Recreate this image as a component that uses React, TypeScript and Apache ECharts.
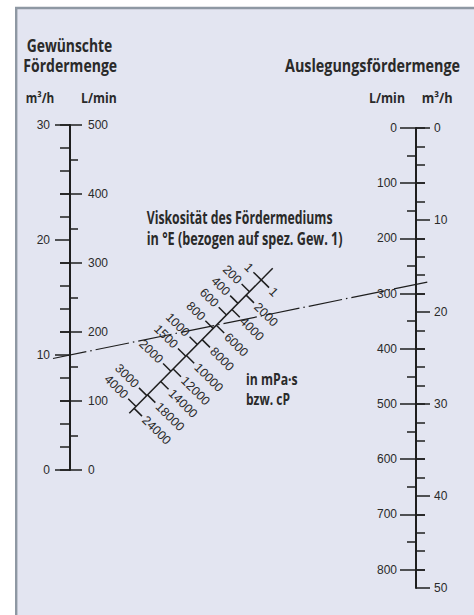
import React, { useEffect, useRef } from 'react';
import * as echarts from 'echarts';

// ---- Left scale: "Gewünschte Fördermenge" ----
const leftLpmMax = 500;
const leftM3hMax = 30;
const leftLpmMajor = [0, 100, 200, 300, 400, 500];
const leftLpmMinor = [50, 150, 250, 350, 450];
const leftM3hMajor = [0, 10, 20, 30];
const leftM3hMinor = [2, 4, 6, 8, 12, 14, 16, 18, 22, 24, 26, 28];

// ---- Right scale: "Auslegungsfördermenge" ----
const rightM3hMax = 50;
const rightLpmMax = 2500 / 3; // = 50 m³/h
const rightLpmMajor = [0, 100, 200, 300, 400, 500, 600, 700, 800];
const rightLpmMinor = [50, 150, 250, 350, 450, 550, 650, 750];
const rightM3hMajor = [0, 10, 20, 30, 40, 50];
const rightM3hMinor = [2, 4, 6, 8, 12, 14, 16, 18, 22, 24, 26, 28, 32, 34, 36, 38, 42, 44, 46, 48];

// ---- Viscosity scale (fraction along the scale, from its upper end) ----
const viscELabels = ['1', '200', '400', '600', '800', '1000', '1500', '2000', '3000', '4000'];
const viscEAt = [0.08, 0.162, 0.242, 0.322, 0.415, 0.525, 0.606, 0.71, 0.878, 0.953];
const viscPLabels = ['1', '2000', '4000', '6000', '8000', '10000', '12000', '14000', '18000', '24000'];
const viscPAt = [0.08, 0.185, 0.284, 0.393, 0.492, 0.602, 0.694, 0.781, 0.873, 0.966];

// ---- Example reading (dash-dot line) ----
const exampleDesiredM3h = 10;
const exampleDesignM3h = 17;

const INK = '#1e1e1e';
const TXT = '#2a2a2a';
const NUM_FONT = 'Liberation Sans';
const TITLE_FONT = 'Open Sans';

function baseY(gridIndex: number, position: string, max: number, inverse: boolean) {
  return {
    type: 'value',
    gridIndex,
    position,
    min: 0,
    max,
    inverse,
    splitLine: { show: false },
    axisLine: { show: false, onZero: false },
    axisLabel: { show: false },
    axisTick: { show: false },
  } as any;
}

function ticks(values: number[], inside: boolean, length: number) {
  return { show: true, inside, length, customValues: values, lineStyle: { color: INK, width: 1.5 } };
}
function labels(values: number[], inside: boolean, margin: number) {
  return {
    show: true,
    inside,
    margin,
    customValues: values,
    color: TXT,
    fontSize: 12,
    fontFamily: NUM_FONT,
  };
}

export default function App() {
  const ref = useRef<HTMLDivElement>(null);

  useEffect(() => {
    const el = ref.current!;
    const chart = echarts.init(el, null, { renderer: 'svg', width: 474, height: 615 });

    const viscData: number[][] = [
      ...viscEAt.map((s, i) => [s, 0, i]),
      ...viscPAt.map((s, i) => [s, 1, i]),
    ];

    const option: any = {
      animation: false,
      backgroundColor: '#ffffff',
      grid: [
        { left: 70, top: 125, width: 346, height: 345 },
        { left: 70, top: 128, width: 346, height: 460 },
        { left: 129.3, top: 268.3, width: 143.4, height: 145 },
      ],
      xAxis: [
        { type: 'value', gridIndex: 0, min: 0, max: 1, show: false },
        { type: 'value', gridIndex: 1, min: 0, max: 1, show: false },
        { type: 'value', gridIndex: 2, min: 0, max: 1, show: false },
      ],
      yAxis: [
        {
          ...baseY(0, 'left', leftLpmMax, false),
          axisLine: { show: true, onZero: false, lineStyle: { color: INK, width: 2 } },
          axisTick: ticks(leftLpmMajor, true, 12),
          axisLabel: labels(leftLpmMajor, true, 18),
        },
        { ...baseY(0, 'left', leftLpmMax, false), axisTick: ticks(leftLpmMajor, false, 10) },
        { ...baseY(0, 'left', leftLpmMax, false), axisTick: ticks(leftLpmMinor, true, 8) },
        {
          ...baseY(0, 'left', leftM3hMax, false),
          axisTick: ticks(leftM3hMajor, false, 15),
          axisLabel: labels(leftM3hMajor, false, 20),
        },
        { ...baseY(0, 'left', leftM3hMax, false), axisTick: ticks(leftM3hMinor, false, 10) },
        {
          ...baseY(1, 'right', rightLpmMax, true),
          axisLine: { show: true, onZero: false, lineStyle: { color: INK, width: 2 } },
          axisTick: ticks(rightLpmMajor, true, 16),
          axisLabel: labels(rightLpmMajor, true, 19),
        },
        { ...baseY(1, 'right', rightLpmMax, true), axisTick: ticks(rightLpmMajor, false, 9) },
        { ...baseY(1, 'right', rightLpmMax, true), axisTick: ticks(rightLpmMinor, true, 9) },
        {
          ...baseY(1, 'right', rightM3hMax, true),
          axisTick: ticks(rightM3hMajor, false, 14),
          axisLabel: labels(rightM3hMajor, false, 18),
        },
        { ...baseY(1, 'right', rightM3hMax, true), axisTick: ticks(rightM3hMinor, false, 9) },
        { type: 'value', gridIndex: 2, min: 0, max: 1, inverse: true, show: false },
      ],
      series: [
        {
          type: 'line',
          xAxisIndex: 2,
          yAxisIndex: 10,
          data: [
            [1, 0],
            [0, 1],
          ],
          symbol: 'none',
          silent: true,
          clip: false,
          lineStyle: { color: INK, width: 1.5 },
          z: 5,
        },
        {
          type: 'custom',
          xAxisIndex: 2,
          yAxisIndex: 10,
          silent: true,
          clip: false,
          data: viscData,
          z: 5,
          renderItem: (params: any, api: any) => {
            const s = api.value(0) as number;
            const side = api.value(1) as number;
            const idx = api.value(2) as number;
            const label = side === 0 ? viscELabels[idx] : viscPLabels[idx];
            const a = api.coord([1, 0]);
            const b = api.coord([0, 1]);
            const dx = b[0] - a[0];
            const dy = b[1] - a[1];
            const len = Math.hypot(dx, dy);
            const ux = dx / len;
            const uy = dy / len;
            const px = a[0] + dx * s;
            const py = a[1] + dy * s;
            const nx = side === 0 ? -uy : uy;
            const ny = side === 0 ? ux : -ux;
            const rot = -Math.atan2(-ux, uy);
            return {
              type: 'group',
              children: [
                {
                  type: 'line',
                  shape: { x1: px, y1: py, x2: px + nx * 11, y2: py + ny * 11 },
                  style: { stroke: INK, lineWidth: 1.5 },
                },
                {
                  type: 'text',
                  x: px + nx * 14,
                  y: py + ny * 14,
                  rotation: rot,
                  style: {
                    text: label,
                    align: side === 0 ? 'right' : 'left',
                    verticalAlign: 'middle',
                    fontSize: 12.5,
                    fontFamily: NUM_FONT,
                    fill: TXT,
                  },
                },
              ],
            };
          },
        },
      ],
    };

    chart.setOption(option);

    const xL = chart.convertToPixel({ xAxisIndex: 0 } as any, 0) as number;
    const yL = chart.convertToPixel({ yAxisIndex: 3 } as any, exampleDesiredM3h) as number;
    const xR = chart.convertToPixel({ xAxisIndex: 1 } as any, 1) as number;
    const yR = chart.convertToPixel({ yAxisIndex: 8 } as any, exampleDesignM3h) as number;
    const span = xR - xL;
    const t0 = -17 / span;
    const t1 = 1 + 13 / span;
    const lx1 = xL + (xR - xL) * t0;
    const ly1 = yL + (yR - yL) * t0;
    const lx2 = xL + (xR - xL) * t1;
    const ly2 = yL + (yR - yL) * t1;

    const ctx = document.createElement('canvas').getContext('2d')!;
    const titles: [string, number, number, number, number][] = [
      ['Gewünschte', 26.7, 112.3, 52.3, 18],
      ['Fördermenge', 23.3, 117.3, 72.7, 18],
      ['m³/h', 25.7, 54.3, 103.3, 13.5],
      ['L/min', 81, 116.7, 103.3, 13.5],
      ['Auslegungsfördermenge', 285, 460, 72.7, 18],
      ['L/min', 369, 405, 103.3, 13.5],
      ['m³/h', 421.7, 452.7, 103.3, 13.5],
      ['Viskosität des Fördermediums', 146.7, 332.7, 223.5, 17],
      ['in °E (bezogen auf spez. Gew. 1)', 146.7, 342.7, 244.3, 17],
      ['in mPa·s', 246, 297.7, 385, 16],
      ['bzw. cP', 246, 290, 405, 16],
    ];
    const titleEls = titles.map(([text, x0, x1, base, size]) => {
      ctx.font = `bold ${size}px "${TITLE_FONT}"`;
      const w = ctx.measureText(text).width || 1;
      return {
        type: 'text',
        x: x0,
        y: base - 0.388 * size,
        scaleX: (x1 - x0) / w,
        z: 20,
        silent: true,
        style: {
          text,
          fontSize: size,
          fontWeight: 'bold',
          fontFamily: TITLE_FONT,
          fill: TXT,
          align: 'left',
          verticalAlign: 'middle',
        },
      };
    });

    chart.setOption({
      graphic: {
        elements: [
          {
            type: 'rect',
            z: -10,
            silent: true,
            shape: { x: 15, y: 7, width: 470, height: 620 },
            style: { fill: '#e3e5f1' },
          },
          {
            type: 'line',
            z: -9,
            silent: true,
            shape: { x1: 16.2, y1: 7, x2: 16.2, y2: 620 },
            style: { stroke: '#8e98a3', lineWidth: 2.4 },
          },
          {
            type: 'line',
            z: -9,
            silent: true,
            shape: { x1: 15, y1: 8, x2: 480, y2: 8 },
            style: { stroke: '#8e98a3', lineWidth: 2.4 },
          },
          {
            type: 'line',
            z: 10,
            silent: true,
            shape: { x1: lx1, y1: ly1, x2: lx2, y2: ly2 },
            style: { stroke: INK, lineWidth: 1.2, lineDash: [34, 4, 1.5, 4], fill: null },
          },
          ...titleEls,
        ],
      },
    });

    return () => chart.dispose();
  }, []);

  return (
    <div
      ref={ref}
      style={{ position: 'absolute', left: 0, top: 0, width: 474, height: 615 }}
    />
  );
}
